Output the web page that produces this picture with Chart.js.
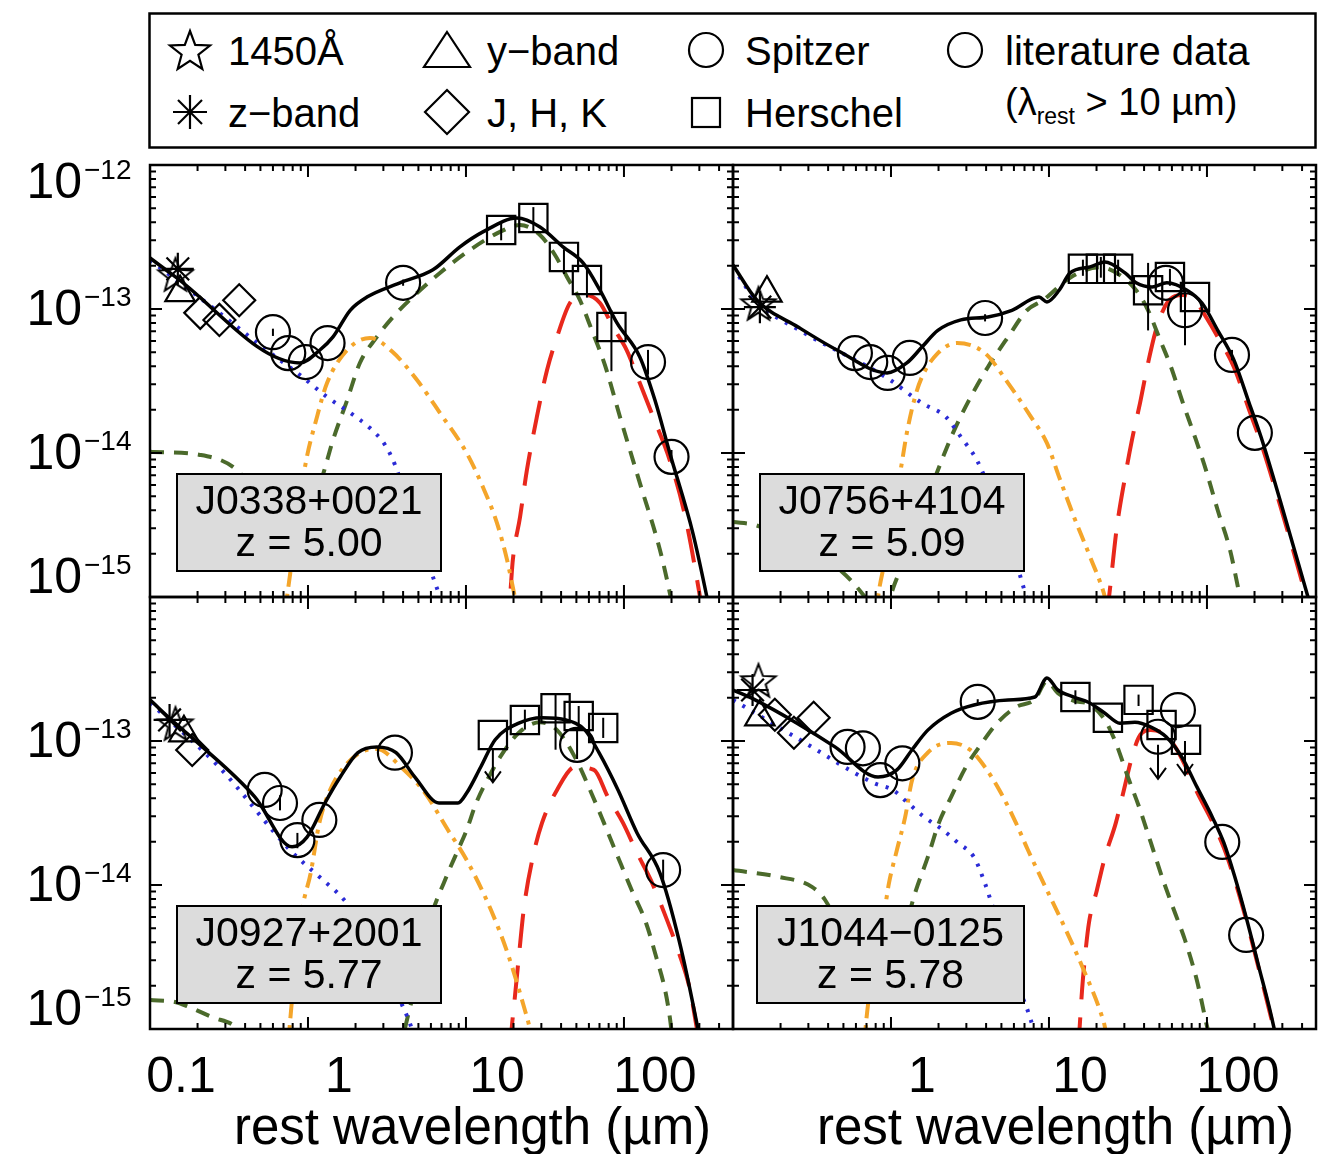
<!DOCTYPE html>
<html>
<head>
<meta charset="utf-8">
<script src="https://cdn.jsdelivr.net/npm/chart.js@4.4.1/dist/chart.umd.min.js"></script>
<style>
  body { margin: 0; background: #fff; }
  #page { position: relative; width: 1323px; height: 1154px; overflow: hidden; font-family: "Liberation Sans", Arial, sans-serif; }
  #page canvas { position: absolute; left: 0; top: 0; }
  .lt { position: absolute; font-size: 40px; line-height: 40px; color: #000; white-space: nowrap; }
  #legendSvg { position: absolute; left: 0; top: 0; }
</style>
</head>
<body>
<div id="page">
  <svg id="legendSvg" width="1323" height="160">
    <rect x="149.5" y="13.5" width="1166" height="134" fill="none" stroke="#000" stroke-width="2.5"/>
    <polygon id="legStar" fill="none" stroke="#000" stroke-width="2.2"/>
    <g stroke="#000" stroke-width="2.2">
      <line x1="190" y1="95" x2="190" y2="129"/>
      <line x1="173" y1="112" x2="207" y2="112"/>
      <line x1="178" y1="100" x2="202" y2="124"/>
      <line x1="178" y1="124" x2="202" y2="100"/>
    </g>
    <polygon points="447,32 470,67 424,67" fill="none" stroke="#000" stroke-width="2.2"/>
    <polygon points="447,90 469,112 447,134 425,112" fill="none" stroke="#000" stroke-width="2.2"/>
    <circle cx="706" cy="50" r="17" fill="none" stroke="#000" stroke-width="2.2"/>
    <rect x="692" y="98" width="28" height="29" fill="none" stroke="#000" stroke-width="2.2"/>
    <circle cx="965" cy="50" r="17" fill="none" stroke="#000" stroke-width="2.2"/>
  </svg>
  <div class="lt" style="left:228px;top:31px">1450Å</div>
  <div class="lt" style="left:487px;top:31px">y−band</div>
  <div class="lt" style="left:745px;top:31px">Spitzer</div>
  <div class="lt" style="left:1005px;top:31px">literature data</div>
  <div class="lt" style="left:228px;top:93px">z−band</div>
  <div class="lt" style="left:487px;top:93px">J, H, K</div>
  <div class="lt" style="left:745px;top:93px">Herschel</div>
  <div class="lt" style="left:1005px;top:83px;font-size:38px;line-height:38px">(λ<span style="font-size:23px;position:relative;top:9px">rest</span> &gt; 10 µm)</div>
</div>
<script>
// axis ranges and tick labels
const xMin = 0.1, xMax = 490;
const yMin = 1e-15, yMax = 1e-12;
const xTickValues = [0.1, 1, 10, 100];
const xTickLabels = ['0.1', '1', '10', '100'];
const yTickExps = [-12, -13, -14, -15];

// J0338+0021
const j0338Total = [[0.1,2.26e-13],[0.14,1.72e-13],[0.89,4.22e-14],[1.19,5.19e-14],[1.44,6.4e-14],[1.85,9.8e-14],[2.36,1.21e-13],[3.82,1.52e-13],[6.18,1.87e-13],[9.16,2.7e-13],[12.8,3.43e-13],[21,4.28e-13],[29.4,3.71e-13],[41.1,2.7e-13],[55.1,2.09e-13],[70.5,1.35e-13],[90.3,8.0e-14],[126,4.64e-14],[157,2.33e-14],[195,1.0e-14],[273,2.78e-15],[335,1e-15],[380,5e-16]];
const j0338Disk = [[0.1,2.19e-13],[0.265,9.7e-14],[0.497,5.62e-14],[0.89,3.48e-14],[1.32,2.45e-14],[1.85,1.9e-14],[2.47,1.49e-14],[3.07,1.14e-14],[3.55,8.3e-15],[4.43,4.0e-15],[5.51,1.96e-15],[6.84,1e-15],[7.9,6e-16]];
const j0338Hot = [[0.7,7e-16],[0.736,1e-15],[0.84,2.92e-15],[0.957,8.0e-15],[1.14,1.78e-14],[1.32,3.06e-14],[1.77,5.19e-14],[2.47,6.3e-14],[3.45,5.0e-14],[4.9,3.21e-14],[6.84,1.9e-14],[10.1,1.0e-14],[12.8,5.8e-15],[15.7,3.27e-15],[18.2,1.81e-15],[20.4,1e-15],[22,7e-16]];
const j0338Torus = [[0.1,1.02e-14],[0.207,9.7e-15],[0.335,8.0e-15],[0.411,6.2e-15],[0.535,3.16e-15],[0.715,2.12e-15],[0.957,3.16e-15],[1.24,7.0e-15],[1.44,1.23e-14],[1.77,2.33e-14],[2.13,4.22e-14],[2.73,6.4e-14],[3.45,8.8e-14],[4.9,1.29e-13],[6.84,1.78e-13],[10.6,2.57e-13],[16.4,3.43e-13],[22,3.83e-13],[29.4,3.27e-13],[36.6,2.37e-13],[43.6,1.67e-13],[52.7,1.15e-13],[62.7,7.1e-14],[75.8,4.08e-14],[94.4,1.78e-14],[126,6.2e-15],[169,2.12e-15],[195,1.07e-15],[210,7e-16]];
const j0338Cold = [[17.7,5e-16],[19,1e-15],[19.8,1.81e-15],[22,3.6e-15],[24.3,7.6e-15],[28.1,1.78e-14],[32.6,3.77e-14],[37.7,6.4e-14],[45.5,1.1e-13],[56.7,1.25e-13],[70.5,1.1e-13],[85.1,7.5e-14],[104,5.19e-14],[126,3.06e-14],[153,1.78e-14],[195,8.9e-15],[243,3.7e-15],[303,1e-15],[326,6e-16]];
const j0338Star = [[0.145,1.75e-13]];
const j0338Zband = [[0.15,1.9e-13]];
const j0338Yband = [[0.155,1.3e-13]];
const j0338JHK = [[0.208,9.4e-14],[0.275,8.4e-14],[0.367,1.15e-13]];
const j0338Spitzer = [[0.6,6.9e-14],[0.75,4.94e-14],[0.967,4.28e-14],[1.33,5.8e-14],[4.0,1.52e-13]];
const j0338Herschel = [[16.7,3.54e-13],[26.7,4.28e-13],[41.7,2.3e-13],[58.3,1.59e-13],[83.3,7.5e-14]];
const j0338Lit = [[142,4.28e-14],[200,9.4e-15]];
const j0338Err = [[16.7,3.0e-13,4.0e-13],[26.7,3.43e-13,5.1e-13],[41.7,1.75e-13,2.6e-13],[58.3,1.2e-13,2.0e-13],[83.3,3.7e-14,9.8e-14],[142,3.5e-14,5.2e-14],[200,8.5e-15,1.05e-14],[4.0,1.45e-13,1.6e-13],[0.6,6.5e-14,7.3e-14]];
const j0338Lim = [];

// J0756+4104
const j0756Total = [[0.1,2.02e-13],[0.142,1.15e-13],[0.258,7.5e-14],[0.455,5.19e-14],[0.944,3.6e-14],[1.26,4.22e-14],[1.57,5.44e-14],[1.98,7.1e-14],[2.77,8.4e-14],[4.11,8.8e-14],[5.83,9.8e-14],[8.65,1.21e-13],[9.71,1.12e-13],[11.6,1.35e-13],[13.6,1.78e-13],[18.2,1.96e-13],[22.6,2.12e-13],[30.3,1.78e-13],[35.6,1.52e-13],[44.9,1.42e-13],[55.8,1.52e-13],[74.7,1.35e-13],[93,1.1e-13],[117,7.1e-14],[148,4.43e-14],[185,2.22e-14],[220,1.29e-14],[290,4.72e-15],[436,1e-15]];
const j0756Disk = [[0.1,1.95e-13],[0.142,1.12e-13],[0.265,7.1e-14],[0.944,3.32e-14],[1.57,2.22e-14],[2.23,1.78e-14],[2.77,1.29e-14],[3.5,8.9e-15],[4.36,5.1e-15],[5.42,2.7e-15],[6.55,1.42e-15],[7.58,8.1e-16]];
const j0756Hot = [[0.8,7e-16],[0.828,1e-15],[0.917,1.81e-15],[1.16,8.0e-15],[1.26,1.38e-14],[1.42,2.45e-14],[1.57,3.37e-14],[1.98,4.94e-14],[2.62,5.8e-14],[3.93,4.94e-14],[5.51,3.06e-14],[7.69,1.78e-14],[9.71,1.17e-14],[11.6,6.8e-15],[14.4,3.6e-15],[18.2,1.9e-15],[22.6,1e-15],[24.3,7e-16]];
const j0756Torus = [[0.1,3.32e-15],[0.138,3.16e-15],[0.265,2.3e-15],[0.475,1.54e-15],[0.684,1e-15],[0.851,6.9e-16],[1.06,1.25e-15],[1.42,2.92e-15],[1.98,7.6e-15],[2.47,1.38e-14],[3.12,2.33e-14],[4.11,3.96e-14],[5.51,6.4e-14],[7.26,9.8e-14],[9.16,1.15e-13],[13.6,1.65e-13],[21,1.95e-13],[28.1,1.72e-13],[35.6,1.35e-13],[42.4,9.8e-14],[50.5,6.1e-14],[59.2,3.96e-14],[70.5,2.22e-14],[84,1.29e-14],[98.6,7.6e-15],[117,4.0e-15],[140,2.12e-15],[162,1e-15],[175,7e-16]];
const j0756Cold = [[23,7e-16],[24,1e-15],[26.9,3.06e-15],[30.3,6.8e-15],[33.5,1.23e-14],[37.7,2.22e-14],[42.4,4.22e-14],[47.5,7.1e-14],[55.8,1.1e-13],[70.5,1.25e-13],[84,1.15e-13],[98.6,8.8e-14],[117,6.4e-14],[148,3.96e-14],[185,1.99e-14],[220,1.17e-14],[290,4.35e-15],[424,1e-15],[460,7e-16]];
const j0756Star = [[0.145,1.1e-13]];
const j0756Zband = [[0.148,1.03e-13]];
const j0756Yband = [[0.164,1.29e-13]];
const j0756JHK = [];
const j0756Spitzer = [[0.591,4.94e-14],[0.739,4.28e-14],[0.952,3.6e-14],[1.314,4.57e-14],[3.94,8.66e-14]];
const j0756Herschel = [[16.4,1.9e-13],[21.3,1.9e-13],[27.4,1.9e-13],[42.4,1.35e-13],[58.3,1.67e-13],[84,1.21e-13]];
const j0756Lit = [[55,1.52e-13],[72.6,9.8e-14],[144,4.8e-14],[201,1.38e-14]];
const j0756Err = [[16.4,1.7e-13,2.2e-13],[21.3,1.65e-13,2.3e-13],[27.4,1.7e-13,2.2e-13],[42.4,7.1e-14,2.09e-13],[58.3,1.45e-13,1.9e-13],[72.6,5.6e-14,1.35e-13],[144,4.4e-14,5.2e-14],[3.94,8.2e-14,9.2e-14]];
const j0756Lim = [];

// J0927+2001
const j0927Total = [[0.1,1.93e-13],[0.144,1.33e-13],[0.201,9.7e-14],[0.462,4.08e-14],[0.793,1.84e-14],[0.986,2.15e-14],[1.28,3.71e-14],[1.6,5.62e-14],[2.07,8.3e-14],[2.73,9.1e-14],[3.61,8.3e-14],[4.75,5.62e-14],[6.75,3.71e-14],[8.9,3.71e-14],[10.1,4.35e-14],[12.4,6.6e-14],[15.3,1.02e-13],[21.6,1.33e-13],[30.3,1.45e-13],[42.9,1.4e-13],[56.7,1.19e-13],[69.5,8.3e-14],[91.7,4.57e-14],[121,2.3e-14],[169,1.21e-14],[223,4.15e-15],[294,1e-15],[320,6e-16]];
const j0927Disk = [[0.1,1.84e-13],[0.277,6.5e-14],[0.769,1.75e-14],[1.18,1.14e-14],[1.69,7.9e-15],[2.3,4.87e-15],[3.07,2.78e-15],[3.82,1.59e-15],[4.55,1e-15],[4.97,7e-16]];
const j0927Hot = [[0.746,7e-16],[0.769,1.1e-15],[0.84,3.0e-15],[0.917,6.7e-15],[1.04,1.21e-14],[1.18,2.7e-14],[1.38,4.57e-14],[1.69,6.6e-14],[2.23,8.5e-14],[2.73,8.8e-14],[3.88,6.6e-14],[5.51,4.35e-14],[7.69,2.41e-14],[10.1,1.49e-14],[14.4,6.7e-15],[18.7,3.16e-15],[23.3,1.42e-15],[25.4,1e-15],[27,7e-16]];
const j0927Torus = [[0.1,1.59e-15],[0.144,1.54e-15],[0.177,1.42e-15],[0.247,1.21e-15],[0.35,1.03e-15],[0.43,7.7e-16],[3.82,7e-16],[4.1,1e-15],[4.97,2.37e-15],[5.92,5.7e-15],[7.36,1.08e-14],[8.9,1.75e-14],[10.1,2.41e-14],[11.6,3.71e-14],[14.4,6.0e-14],[16.4,7.7e-14],[21.6,1.14e-13],[29.4,1.35e-13],[37.7,1.19e-13],[49,7.7e-14],[61,4.57e-14],[74.7,2.7e-14],[91.7,1.56e-14],[112,9.2e-15],[138,5.45e-15],[160,3.16e-15],[182,1.87e-15],[195,1.21e-15],[204,8e-16]];
const j0927Cold = [[19,7e-16],[19.5,1.03e-15],[20.1,1.42e-15],[21.6,3.16e-15],[23.3,7.0e-15],[26.5,1.56e-14],[30.3,2.7e-14],[37.7,4.57e-14],[49,6.6e-14],[64.6,6.3e-14],[79.2,4.08e-14],[98.6,2.7e-14],[121,1.67e-14],[148,1.08e-14],[182,6.2e-15],[223,3.37e-15],[262,1.87e-15],[290,1e-15],[310,7e-16]];
const j0927Star = [[0.145,1.33e-13]];
const j0927Zband = [[0.133,1.4e-13]];
const j0927Yband = [[0.164,1.14e-13]];
const j0927JHK = [[0.185,8.66e-14]];
const j0927Spitzer = [[0.532,4.57e-14],[0.665,3.71e-14],[0.857,2.05e-14],[1.18,2.83e-14],[3.55,8.3e-14]];
const j0927Herschel = [[14.8,1.1e-13],[23.6,1.4e-13],[36.9,1.69e-13],[51.7,1.49e-13],[73.9,1.23e-13]];
const j0927Lit = [[50.5,9.4e-14],[177,1.27e-14]];
const j0927Err = [[23.6,1.2e-13,1.65e-13],[36.9,8.7e-14,2.09e-13],[51.7,1.25e-13,1.75e-13],[73.9,1.05e-13,1.45e-13],[50.5,7.5e-14,1.2e-13],[177,1.05e-14,1.5e-14],[0.665,3.3e-14,4.2e-14],[0.857,1.8e-14,2.3e-14]];
const j0927Lim = [[14.8,8.9e-14]];

// J1044-0125
const j1044Total = [[0.1,2.26e-13],[0.138,1.93e-13],[0.254,1.33e-13],[0.442,9.1e-14],[0.828,5.62e-14],[1.09,6.3e-14],[1.36,8.7e-14],[1.71,1.19e-13],[2.4,1.56e-13],[3.35,1.78e-13],[5.51,1.93e-13],[8.15,2.02e-13],[9.71,2.74e-13],[11.4,2.26e-13],[14.4,2.02e-13],[17.9,1.85e-13],[22.6,1.56e-13],[28.1,1.33e-13],[35,1.35e-13],[44.2,1.25e-13],[55.1,1.07e-13],[69.5,7.7e-14],[86.4,4.8e-14],[108,2.97e-14],[128,1.96e-14],[150,1.14e-14],[179,5.7e-15],[210,2.87e-15],[265,1.03e-15],[290,6e-16]];
const j1044Disk = [[0.1,1.93e-13],[0.265,1.02e-13],[0.78,5.1e-14],[1.03,4.57e-14],[1.28,3.71e-14],[1.62,2.97e-14],[2.13,2.41e-14],[2.66,1.96e-14],[3.35,1.56e-14],[3.93,1.03e-14],[4.36,7.3e-15],[5.27,3.83e-15],[6.37,2.02e-15],[7.9,1.03e-15],[8.5,7e-16]];
const j1044Hot = [[0.675,7e-16],[0.695,1.1e-15],[0.793,3.0e-15],[0.917,7.0e-15],[0.971,1.03e-14],[1.09,1.75e-14],[1.23,2.97e-14],[1.36,5.35e-14],[1.71,8.3e-14],[2.4,9.7e-14],[3.16,8.7e-14],[3.93,6.6e-14],[4.97,4.35e-14],[6.18,2.7e-14],[7.36,1.75e-14],[9.71,9.2e-15],[12.8,4.87e-15],[16.9,2.45e-15],[21.3,1.29e-15],[22.6,1.03e-15],[23.8,7e-16]];
const j1044Torus = [[0.1,1.27e-14],[0.193,1.14e-14],[0.316,9.7e-15],[0.382,7.9e-15],[0.55,3.54e-15],[0.793,1.87e-15],[1.06,3.0e-15],[1.44,9.2e-15],[1.71,1.56e-14],[2.01,2.7e-14],[2.4,4.08e-14],[2.98,6.6e-14],[3.77,9.7e-14],[4.69,1.33e-13],[6.18,1.72e-13],[8.15,1.95e-13],[9.71,2.6e-13],[11.4,2.15e-13],[14.4,1.9e-13],[17.9,1.8e-13],[22.6,1.4e-13],[26.5,9.7e-14],[31.6,5.62e-14],[37.2,3.48e-14],[44.2,1.96e-14],[51.9,1.14e-14],[61.8,6.7e-15],[72.6,4.15e-15],[86.4,2.17e-15],[101,1e-15],[110,7e-16]];
const j1044Cold = [[15.3,7e-16],[15.7,1.1e-15],[16.2,1.87e-15],[16.9,3.16e-15],[17.9,5.45e-15],[20.1,9.2e-15],[22.6,1.56e-14],[26.5,2.7e-14],[29.8,4.57e-14],[33.5,7.7e-14],[37.2,1.07e-13],[44.2,1.19e-13],[51.9,1.14e-13],[61.8,9.4e-14],[72.6,6.8e-14],[86.4,4.43e-14],[108,2.75e-14],[128,1.81e-14],[150,1.08e-14],[179,5.5e-15],[210,2.78e-15],[265,1e-15],[285,7e-16]];
const j1044Star = [[0.145,2.65e-13]];
const j1044Zband = [[0.133,2.26e-13]];
const j1044Yband = [[0.148,1.47e-13]];
const j1044JHK = [[0.184,1.52e-13],[0.243,1.14e-13],[0.324,1.45e-13]];
const j1044Spitzer = [[0.531,9.1e-14],[0.664,8.9e-14],[0.855,5.35e-14],[1.18,7.0e-14],[3.54,1.87e-13]];
const j1044Herschel = [[14.7,2.02e-13],[23.6,1.45e-13],[36.9,1.93e-13],[51.6,1.29e-13],[73.7,1.02e-13]];
const j1044Lit = [[49,1.07e-13],[65.5,1.64e-13],[125,1.99e-14],[177,4.5e-15]];
const j1044Err = [[14.7,1.8e-13,2.25e-13],[36.9,1.75e-13,2.1e-13],[3.54,1.8e-13,1.95e-13]];
const j1044Lim = [[49,9.4e-14],[72.6,1.0e-13]];

const W = 1323, H = 1154, PW = 583, PH = 432;
const FONT = '"Liberation Sans", Arial, sans-serif';

const panels = [
  { name: 'J0338+0021', z: 'z = 5.00', left: 150, top: 165, boxDx: 27, boxW: 264, yExps: yTickExps, xLabels: [],
    total: j0338Total, disk: j0338Disk, hot: j0338Hot, torus: j0338Torus, cold: j0338Cold,
    star: j0338Star, zband: j0338Zband, yband: j0338Yband, jhk: j0338JHK, spitzer: j0338Spitzer,
    herschel: j0338Herschel, lit: j0338Lit, err: j0338Err, lim: j0338Lim },
  { name: 'J0756+4104', z: 'z = 5.09', left: 733, top: 165, boxDx: 27, boxW: 264, yExps: [], xLabels: [],
    total: j0756Total, disk: j0756Disk, hot: j0756Hot, torus: j0756Torus, cold: j0756Cold,
    star: j0756Star, zband: j0756Zband, yband: j0756Yband, jhk: j0756JHK, spitzer: j0756Spitzer,
    herschel: j0756Herschel, lit: j0756Lit, err: j0756Err, lim: j0756Lim },
  { name: 'J0927+2001', z: 'z = 5.77', left: 150, top: 597, boxDx: 27, boxW: 264, yExps: yTickExps.slice(1), xLabels: [0, 1, 2, 3],
    total: j0927Total, disk: j0927Disk, hot: j0927Hot, torus: j0927Torus, cold: j0927Cold,
    star: j0927Star, zband: j0927Zband, yband: j0927Yband, jhk: j0927JHK, spitzer: j0927Spitzer,
    herschel: j0927Herschel, lit: j0927Lit, err: j0927Err, lim: j0927Lim },
  { name: 'J1044−0125', z: 'z = 5.78', left: 733, top: 597, boxDx: 24, boxW: 267, yExps: [], xLabels: [1, 2, 3],
    total: j1044Total, disk: j1044Disk, hot: j1044Hot, torus: j1044Torus, cold: j1044Cold,
    star: j1044Star, zband: j1044Zband, yband: j1044Yband, jhk: j1044JHK, spitzer: j1044Spitzer,
    herschel: j1044Herschel, lit: j1044Lit, err: j1044Err, lim: j1044Lim }
];

const pts = arr => arr.map(([x, y]) => ({ x, y }));

// open five-pointed star marker
function starImage(r) {
  const s = Math.ceil(r * 2 + 6);
  const c = document.createElement('canvas');
  c.width = s; c.height = s;
  const g = c.getContext('2d');
  g.strokeStyle = '#000';
  g.lineWidth = 2;
  g.beginPath();
  for (let i = 0; i < 10; i++) {
    const a = -Math.PI / 2 + i * Math.PI / 5;
    const rr = i % 2 ? r * 0.42 : r;
    const px = s / 2 + rr * Math.cos(a), py = s / 2 + 2 + rr * Math.sin(a);
    if (i) g.lineTo(px, py); else g.moveTo(px, py);
  }
  g.closePath();
  g.stroke();
  return c;
}
const starMarker = starImage(18);

// legend star
(function () {
  const p = [];
  for (let i = 0; i < 10; i++) {
    const a = -Math.PI / 2 + i * Math.PI / 5;
    const rr = i % 2 ? 8.8 : 21;
    p.push((190 + rr * Math.cos(a)).toFixed(1) + ',' + (52 + rr * Math.sin(a)).toFixed(1));
  }
  document.getElementById('legStar').setAttribute('points', p.join(' '));
})();

function lineSet(data, color, width, dash) {
  return {
    data: pts(data), showLine: true, borderColor: color, backgroundColor: color,
    borderWidth: width, borderDash: dash, pointRadius: 0, pointHoverRadius: 0,
    cubicInterpolationMode: 'monotone', clip: 0, order: 2
  };
}

function markSet(data, style, radius) {
  return {
    data: pts(data), showLine: false, pointStyle: style, pointRadius: radius,
    pointBorderWidth: 2.2, pointBorderColor: '#000', pointBackgroundColor: 'rgba(0,0,0,0)',
    borderColor: '#000', backgroundColor: 'rgba(0,0,0,0)', clip: false, order: 0
  };
}

function decor(p) {
  return {
    id: 'decor',
    afterDatasetsDraw(chart) {
      const { ctx, scales: { x, y } } = chart;
      ctx.save();
      ctx.strokeStyle = '#000';
      ctx.lineWidth = 2;
      p.err.forEach(([l, lo, hi]) => {
        const px = x.getPixelForValue(l);
        ctx.beginPath();
        ctx.moveTo(px, y.getPixelForValue(lo));
        ctx.lineTo(px, y.getPixelForValue(hi));
        ctx.stroke();
      });
      p.lim.forEach(([l, f]) => {
        const px = x.getPixelForValue(l), py = y.getPixelForValue(f);
        ctx.beginPath();
        ctx.moveTo(px, py);
        ctx.lineTo(px, py + 34);
        ctx.moveTo(px - 8, py + 23);
        ctx.lineTo(px, py + 34);
        ctx.lineTo(px + 8, py + 23);
        ctx.stroke();
      });
      ctx.restore();
    },
    afterDraw(chart) {
      const { ctx, chartArea: a, scales: { x, y } } = chart;
      ctx.save();
      ctx.strokeStyle = '#000';
      ctx.fillStyle = '#000';

      // inward ticks on all four sides
      ctx.lineWidth = 2;
      ctx.beginPath();
      for (let e = -1; e <= 2; e++) {
        for (let m = 1; m <= 9; m++) {
          const v = m * Math.pow(10, e);
          if (v <= xMin || v >= xMax) continue;
          const px = x.getPixelForValue(v), len = m === 1 ? 12 : 6;
          ctx.moveTo(px, a.bottom); ctx.lineTo(px, a.bottom - len);
          ctx.moveTo(px, a.top); ctx.lineTo(px, a.top + len);
        }
      }
      for (let e = -15; e <= -13; e++) {
        for (let m = 1; m <= 9; m++) {
          const v = m * Math.pow(10, e);
          if (v <= yMin || v >= yMax) continue;
          const py = y.getPixelForValue(v), len = m === 1 ? 12 : 6;
          ctx.moveTo(a.left, py); ctx.lineTo(a.left + len, py);
          ctx.moveTo(a.right, py); ctx.lineTo(a.right - len, py);
        }
      }
      ctx.stroke();

      // frame
      ctx.lineWidth = 2.5;
      ctx.strokeRect(a.left, a.top, a.right - a.left, a.bottom - a.top);

      // name box
      const bx = a.left + p.boxDx, by = a.top + 309;
      ctx.fillStyle = '#dcdcdc';
      ctx.fillRect(bx, by, p.boxW, 97);
      ctx.lineWidth = 2;
      ctx.strokeRect(bx, by, p.boxW, 97);
      ctx.fillStyle = '#000';
      ctx.font = '41px ' + FONT;
      ctx.textAlign = 'center';
      ctx.textBaseline = 'alphabetic';
      ctx.fillText(p.name, bx + p.boxW / 2, by + 40);
      ctx.fillText(p.z, bx + p.boxW / 2, by + 82);

      // y tick labels 10^n
      p.yExps.forEach(n => {
        const tick = y.getPixelForValue(Math.pow(10, n));
        const c = Math.min(Math.max(tick - 2, a.top + 15), a.bottom - 22);
        ctx.textAlign = 'right';
        ctx.font = '50px ' + FONT;
        ctx.fillText('10', 82, c + 18);
        ctx.textAlign = 'left';
        ctx.font = '28px ' + FONT;
        ctx.fillText('\u2212' + Math.abs(n), 84, c - 1);
      });

      // x tick labels and title
      if (p.xLabels.length) {
        ctx.font = '50px ' + FONT;
        ctx.textAlign = 'center';
        p.xLabels.forEach(i => {
          ctx.fillText(xTickLabels[i], x.getPixelForValue(xTickValues[i]) + 31, a.bottom + 63);
        });
        ctx.font = '51px ' + FONT;
        ctx.fillText('rest wavelength (µm)', (a.left + a.right) / 2 + 31, a.bottom + 115);
      }
      ctx.restore();
    }
  };
}

const page = document.getElementById('page');
panels.forEach(p => {
  const cv = document.createElement('canvas');
  cv.width = W; cv.height = H;
  page.appendChild(cv);
  new Chart(cv.getContext('2d'), {
    type: 'scatter',
    data: {
      datasets: [
        markSet(p.star, starMarker, 18),
        markSet(p.zband, 'star', 16),
        markSet(p.yband, 'triangle', 17),
        markSet(p.jhk, 'rectRot', 16),
        markSet(p.spitzer, 'circle', 17),
        markSet(p.herschel, 'rect', 20),
        markSet(p.lit, 'circle', 17),
        Object.assign(lineSet(p.total, '#000', 3.5, []), { order: 1 }),
        lineSet(p.disk, '#2b2bd6', 4, [3, 8]),
        lineSet(p.hot, '#f4a52a', 4, [15, 7, 4, 7]),
        lineSet(p.torus, '#4b6a2b', 4, [14, 10]),
        lineSet(p.cold, '#e8281c', 4, [34, 18])
      ]
    },
    options: {
      responsive: false,
      animation: false,
      events: [],
      layout: {
        autoPadding: false,
        padding: { left: p.left, top: p.top, right: W - p.left - PW, bottom: H - p.top - PH }
      },
      plugins: { legend: { display: false }, tooltip: { enabled: false } },
      elements: { line: { capBezierPoints: false } },
      scales: {
        x: { type: 'logarithmic', min: xMin, max: xMax, bounds: 'data', display: false },
        y: { type: 'logarithmic', min: yMin, max: yMax, bounds: 'data', display: false }
      }
    },
    plugins: [decor(p)]
  });
});
</script>
</body>
</html>
